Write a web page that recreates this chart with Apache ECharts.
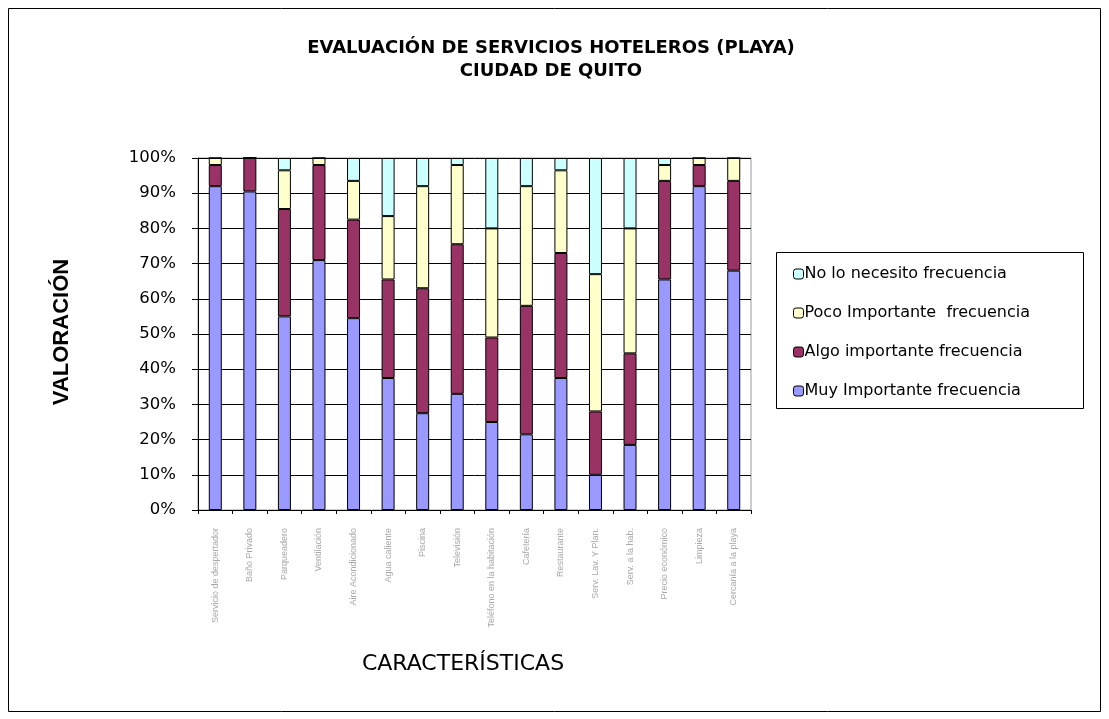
<!DOCTYPE html>
<html>
<head>
<meta charset="utf-8">
<script src="https://cdn.jsdelivr.net/npm/echarts@6/dist/echarts.min.js"></script>
<style>
  html, body { margin: 0; padding: 0; background: #fff; }
  #chart { width: 1109px; height: 719px; }
</style>
</head>
<body>
<div id="chart"></div>
<script>
// Hotel services rated by beach travellers from Quito (share of answers per rating)
const categories = [
  'Servicio de despertador', 'Baño Privado', 'Parqueadero', 'Ventilación',
  'Aire Acondicionado', 'Agua caliente', 'Piscina', 'Televisión',
  'Teléfono en la habitación', 'Cafetería', 'Restaurante', 'Serv. Lav. Y Plan.',
  'Serv. a la hab.', 'Precio económico', 'Limpieza', 'Cercanía a la playa'
];
const muyImportante   = [92, 90.5, 55, 71, 54.5, 37.5, 27.5, 33, 25, 21.5, 37.5, 10, 18.5, 65.5, 92, 68];
const algoImportante  = [6, 9.5, 30.5, 27, 28, 28, 35.5, 42.5, 24, 36.5, 35.5, 18, 26, 28, 6, 25.5];
const pocoImportante  = [2, 0, 11, 2, 11, 18, 29, 22.5, 31, 34, 23.5, 39, 35.5, 4.5, 2, 6.5];
const noLoNecesito    = [0, 0, 3.5, 0, 6.5, 16.5, 8, 2, 20, 8, 3.5, 33, 20, 2, 0, 0];
const yTicks = ['0%', '10%', '20%', '30%', '40%', '50%', '60%', '70%', '80%', '90%', '100%'];

const seriesNames = [
  'Muy Importante frecuencia',
  'Algo importante frecuencia',
  'Poco Importante  frecuencia',
  'No lo necesito frecuencia'
];
const seriesData = [muyImportante, algoImportante, pocoImportante, noLoNecesito];
const colors = ['#9999FF', '#993366', '#FFFFCC', '#CCFFFF'];

const chart = echarts.init(document.getElementById('chart'), null, { renderer: 'canvas' });

chart.setOption({
  animation: false,
  backgroundColor: '#ffffff',
  title: {
    text: 'EVALUACIÓN DE SERVICIOS HOTELEROS (PLAYA)\nCIUDAD DE QUITO',
    left: 546,
    top: 32,
    textAlign: 'center',
    textStyle: {
      fontFamily: 'DejaVu Sans, sans-serif',
      fontSize: 18,
      fontWeight: 'bold',
      color: '#000',
      lineHeight: 23
    }
  },
  legend: {
    orient: 'vertical',
    left: 788,
    top: 261,
    itemWidth: 10,
    itemHeight: 10,
    itemGap: 23,
    itemStyle: { borderColor: '#000', borderWidth: 1 },
    textStyle: {
      fontFamily: 'DejaVu Sans, sans-serif',
      fontSize: 16,
      color: '#000',
      padding: [0, 0, 0, -4]
    },
    data: seriesNames.slice().reverse()
  },
  grid: {
    left: 198,
    top: 158,
    right: 358,
    bottom: 209,
    show: true,
    borderColor: '#999',
    borderWidth: 1
  },
  xAxis: {
    type: 'category',
    data: categories,
    axisLine: { lineStyle: { color: '#000', width: 1 } },
    axisTick: { show: true, length: 4, lineStyle: { color: '#000' } },
    axisLabel: {
      rotate: 90,
      interval: 0,
      fontSize: 9,
      color: '#a8a8a8',
      margin: 18,
      fontFamily: 'Liberation Sans, Arial, sans-serif'
    },
    splitLine: { show: false }
  },
  yAxis: {
    type: 'value',
    min: 0,
    max: 100,
    interval: 10,
    axisLine: { show: true, lineStyle: { color: '#000', width: 1 } },
    axisTick: { show: true, length: 6, lineStyle: { color: '#000' } },
    axisLabel: {
      formatter: v => yTicks[Math.round(v / 10)],
      fontFamily: 'DejaVu Sans, sans-serif',
      fontSize: 16.5,
      color: '#000',
      margin: 22
    },
    splitLine: { show: true, lineStyle: { color: '#000', width: 1 } }
  },
  series: seriesNames.map((name, i) => ({
    name: name,
    type: 'bar',
    stack: 'total',
    barWidth: 13,
    data: seriesData[i],
    itemStyle: { color: colors[i], borderColor: '#000', borderWidth: 1 }
  })),
  graphic: [
    {
      type: 'rect',
      shape: { x: 8.5, y: 8.5, width: 1092, height: 703 },
      style: { fill: 'none', stroke: '#000', lineWidth: 1 },
      silent: true
    },
    {
      type: 'rect',
      shape: { x: 776.5, y: 252.5, width: 307, height: 156 },
      style: { fill: 'none', stroke: '#000', lineWidth: 1 },
      silent: true
    },
    {
      type: 'text',
      x: 62,
      y: 332,
      rotation: Math.PI / 2,
      style: {
        text: 'VALORACIÓN',
        fontFamily: 'Liberation Sans, Arial, sans-serif',
        fontSize: 22,
        fontWeight: 'bold',
        fill: '#000',
        align: 'center',
        verticalAlign: 'middle'
      }
    },
    {
      type: 'text',
      x: 463,
      y: 664,
      style: {
        text: 'CARACTERÍSTICAS',
        fontFamily: 'DejaVu Sans, sans-serif',
        fontSize: 22,
        fill: '#000',
        align: 'center',
        verticalAlign: 'middle'
      }
    }
  ]
});
</script>
</body>
</html>
